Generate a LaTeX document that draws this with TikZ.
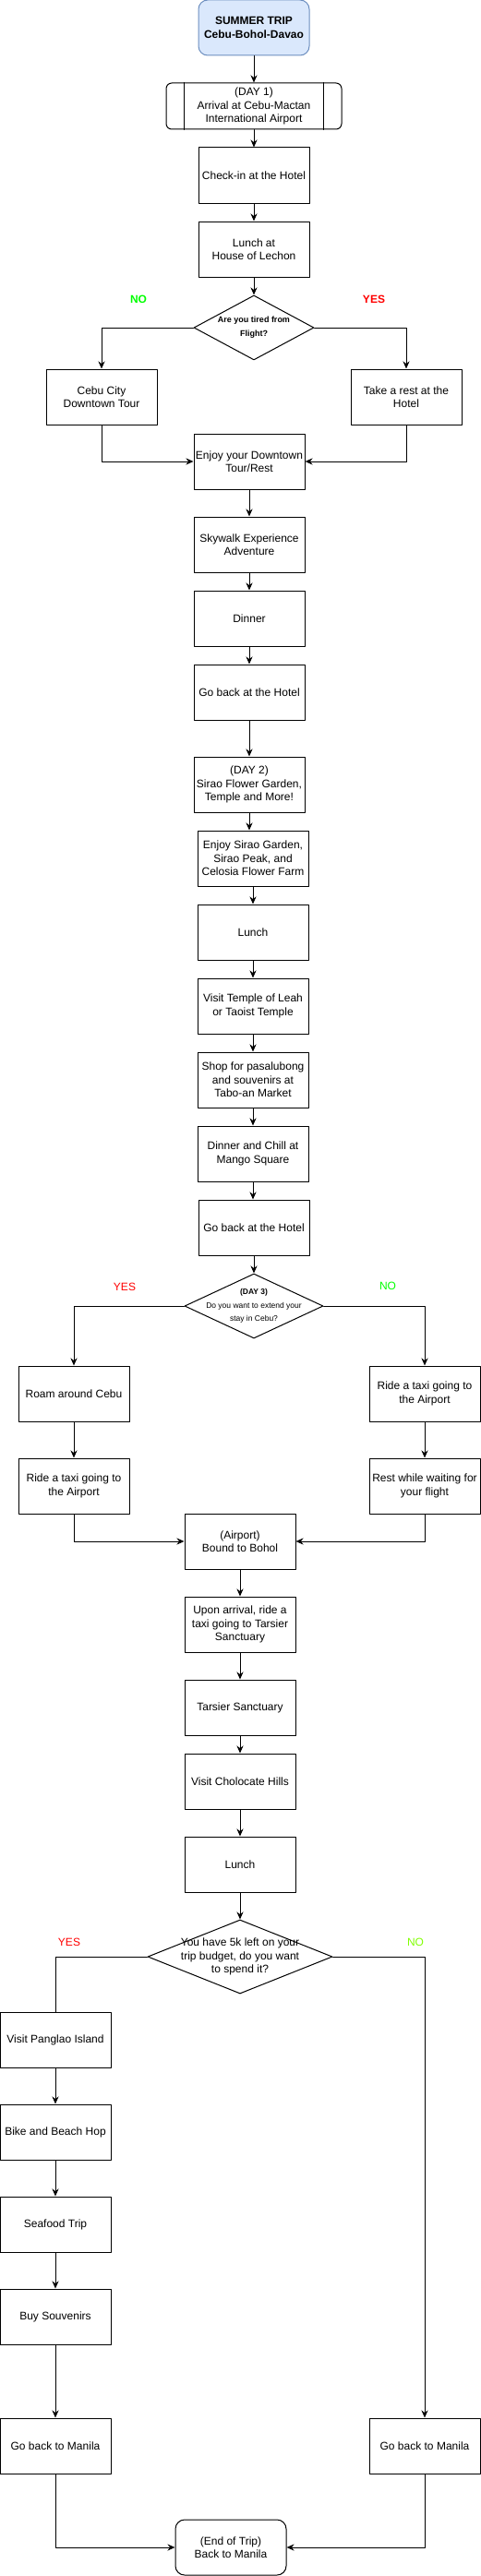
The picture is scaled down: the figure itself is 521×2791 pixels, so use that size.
\documentclass[tikz,border=0pt]{standalone}
\usepackage{fontspec}
\setmainfont{Liberation Sans}
\usetikzlibrary{arrows.meta, shapes.geometric, positioning}
\definecolor{ink}{HTML}{000000}
\definecolor{skyfill}{HTML}{DAE8FC}
\definecolor{skyline}{HTML}{6C8EBF}
\definecolor{yesred}{HTML}{FF0000}
\definecolor{nogreen}{HTML}{00FF00}
\definecolor{nolime}{HTML}{80FF00}
\tikzset{fc/.style={line cap=round, line join=round, x=1pt, y=-1pt, font=\fontsize{12}{14.5}\selectfont},
  box/.style={draw=ink, line width=1pt, minimum width=120pt, minimum height=60pt, inner sep=1pt, align=center},
  ask/.style={draw=ink, line width=1pt, diamond, inner sep=0pt},
  arr/.style={draw=ink, line width=1pt, -{Stealth[length=8pt, width=7pt, inset=2.5pt]}},
  wire/.style={draw=ink, line width=1pt}}

\begin{document}
\begin{tikzpicture}[fc]
  \useasboundingbox (0,0) rectangle (521,2791);
  \node[box, rounded corners=10pt, fill=skyfill, draw=skyline, font=\bfseries\fontsize{12}{14.5}\selectfont] (start) at (275,30) {SUMMER TRIP\\Cebu-Bohol-Davao};
  \node[box, minimum width=190pt, minimum height=50pt, rounded corners=6pt] (day1) at (275,115) {(DAY 1)\\Arrival at Cebu-Mactan\\International Airport};
  \draw[wire] ([xshift=20pt]day1.north west) -- ([xshift=20pt]day1.south west);
  \draw[wire] ([xshift=-20pt]day1.north east) -- ([xshift=-20pt]day1.south east);
  \node[box] (checkin) at (275,190) {Check-in at the Hotel};
  \node[box] (lechon) at (275,270) {Lunch at\\House of Lechon};
  \node[ask, minimum width=130pt, minimum height=70pt, label={[font=\bfseries\fontsize{9}{15}\selectfont, align=center]center:{Are you tired from\\Flight?}}] (q1) at (275,355) {};
  \node[font=\bfseries\fontsize{12}{14.5}\selectfont, text=nogreen] (noA) at (150,324) {NO};
  \node[font=\bfseries\fontsize{12}{14.5}\selectfont, text=yesred] (yesA) at (405,324) {YES};
  \node[box] (cebu) at (110,430) {Cebu City\\Downtown Tour};
  \node[box] (rest) at (440,430) {Take a rest at the\\Hotel};
  \node[box] (enjoy) at (270,500) {Enjoy your Downtown\\Tour/Rest};
  \node[box] (sky) at (270,590) {Skywalk Experience\\Adventure};
  \node[box] (dinner) at (270,670) {Dinner};
  \node[box] (hotelA) at (270,750) {Go back at the Hotel};
  \node[box] (dayB) at (270,850) {(DAY 2)\\Sirao Flower Garden,\\Temple and More!};
  \node[box] (sirao) at (274,930) {Enjoy Sirao Garden,\\Sirao Peak, and\\Celosia Flower Farm};
  \node[box] (lunchA) at (274,1010) {Lunch};
  \node[box] (temple) at (274,1090) {Visit Temple of Leah\\or Taoist Temple};
  \node[box] (shop) at (274,1170) {Shop for pasalubong\\and souvenirs at\\Tabo-an Market};
  \node[box] (chill) at (274,1250) {Dinner and Chill at\\Mango Square};
  \node[box] (hotelB) at (275,1330) {Go back at the Hotel};
  \node[ask, minimum width=150pt, minimum height=70pt, label={[font=\fontsize{8.5}{14.5}\selectfont, align=center]center:{\textbf{(DAY 3)}\\Do you want to extend your\\stay in Cebu?}}] (q2) at (275,1415) {};
  \node[text=yesred] (yesB) at (135,1394) {YES};
  \node[text=nogreen] (noB) at (420,1393) {NO};
  \node[box] (roam) at (80,1510) {Roam around Cebu};
  \node[box] (taxiR) at (460,1510) {Ride a taxi going to\\the Airport};
  \node[box] (taxiL) at (80,1610) {Ride a taxi going to\\the Airport};
  \node[box] (waitR) at (460,1610) {Rest while waiting for\\your flight};
  \node[box] (bohol) at (260,1670) {(Airport)\\Bound to Bohol};
  \node[box] (upon) at (260,1760) {Upon arrival, ride a\\taxi going to Tarsier\\Sanctuary};
  \node[box] (tarsier) at (260,1850) {Tarsier Sanctuary};
  \node[box] (hills) at (260,1930) {Visit Cholocate Hills};
  \node[box] (lunchB) at (260,2020) {Lunch};
  \node[ask, minimum width=200pt, minimum height=80pt, label={[align=center]center:{You have 5k left on your\\trip budget, do you want\\to spend it?}}] (q3) at (260,2120) {};
  \node[text=yesred] (yesC) at (75,2104) {YES};
  \node[text=nolime] (noC) at (450,2104) {NO};
  \node[box] (panglao) at (60,2210) {Visit Panglao Island};
  \node[box] (bike) at (60,2310) {Bike and Beach Hop};
  \node[box] (seafood) at (60,2410) {Seafood Trip};
  \node[box] (souv) at (60,2510) {Buy Souvenirs};
  \node[box] (manilaL) at (60,2650) {Go back to Manila};
  \node[box] (manilaR) at (460,2650) {Go back to Manila};
  \node[box, rounded corners=10pt] (endtrip) at (250,2760) {(End of Trip)\\Back to Manila};

  \foreach \a/\b in {start/day1, day1/checkin, checkin/lechon, lechon/q1, enjoy/sky, sky/dinner, dinner/hotelA, hotelA/dayB, dayB/sirao, sirao/lunchA, lunchA/temple, temple/shop, shop/chill, chill/hotelB, hotelB/q2, roam/taxiL, taxiR/waitR, bohol/upon, upon/tarsier, tarsier/hills, hills/lunchB, lunchB/q3, panglao/bike, bike/seafood, seafood/souv, souv/manilaL}
    \draw[arr] (\a.south) -- (\a.south |- \b.north);
  \draw[arr] (q1) -| (cebu);
  \draw[arr] (q1) -| (rest);
  \draw[arr] (cebu) |- (enjoy);
  \draw[arr] (rest) |- (enjoy);
  \draw[arr] (q2) -| (roam);
  \draw[arr] (q2) -| (taxiR);
  \draw[arr] (taxiL) |- (bohol);
  \draw[arr] (waitR) |- (bohol);
  \draw[wire] (q3) -| (panglao);
  \draw[arr] (q3) -| (manilaR);
  \draw[arr] (manilaL) |- (endtrip);
  \draw[arr] (manilaR) |- (endtrip);
\end{tikzpicture}
\end{document}
